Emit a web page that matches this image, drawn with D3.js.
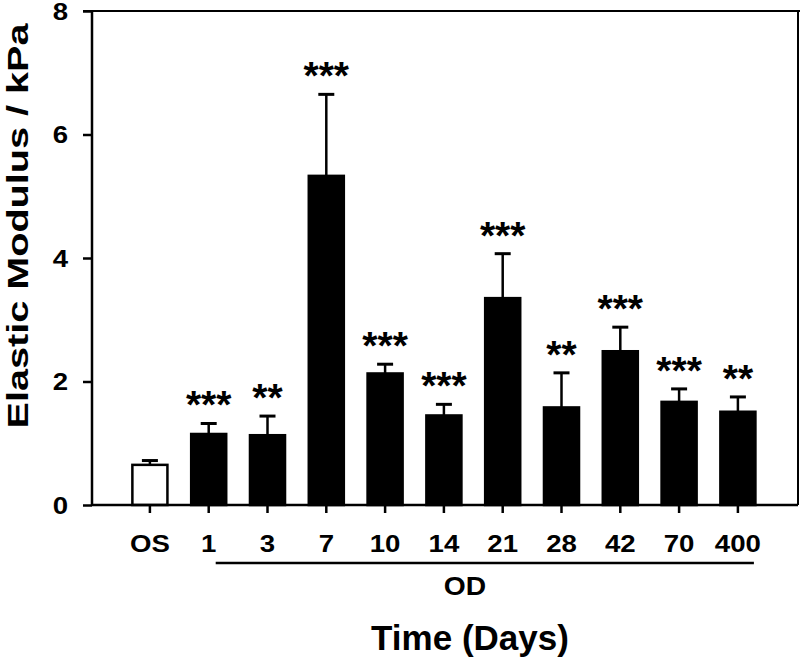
<!DOCTYPE html>
<html>
<head>
<meta charset="utf-8">
<script src="https://cdn.jsdelivr.net/npm/d3@7"></script>
<style>
  html, body { margin: 0; padding: 0; background: #fff; }
  svg { display: block; }
  text { font-family: "Liberation Sans", Arial, sans-serif; font-weight: bold; fill: #000; }
</style>
</head>
<body>
<svg id="chart" width="800" height="666"></svg>
<script>
// ---- data ----
const categories = ["OS", "1", "3", "7", "10", "14", "21", "28", "42", "70", "400"];
const groups = ["control", "OD", "OD", "OD", "OD", "OD", "OD", "OD", "OD", "OD", "OD"];
const means = [0.65, 1.15, 1.13, 5.33, 2.13, 1.45, 3.35, 1.58, 2.49, 1.67, 1.51];
const errors = [0.07, 0.17, 0.31, 1.32, 0.15, 0.18, 0.72, 0.56, 0.39, 0.21, 0.24];
const significance = ["", "***", "**", "***", "***", "***", "***", "**", "***", "***", "**"];
const yTicks = [0, 2, 4, 6, 8];
const yTitle = "Elastic Modulus / kPa";
const xTitle = "Time (Days)";
const groupLabel = "OD";

// ---- layout ----
const svg = d3.select("#chart");
const mLeft = 92, mRight = 798, mTop = 11, mBottom = 505;

const x = d3.scaleBand()
  .domain(categories)
  .range([120.5, 767.3])
  .paddingInner(0.37)
  .paddingOuter(0.185);

const y = d3.scaleLinear().domain([0, 8]).range([mBottom, mTop]);

// frame (top & right)
svg.append("line").attr("x1", mLeft - 9).attr("x2", 800).attr("y1", mTop).attr("y2", mTop)
  .attr("stroke", "#000").attr("stroke-width", 2);
svg.append("line").attr("x1", mRight).attr("x2", mRight).attr("y1", mTop).attr("y2", mBottom)
  .attr("stroke", "#000").attr("stroke-width", 2);

// bars
svg.append("g").selectAll("rect")
  .data(categories)
  .join("rect")
  .attr("x", d => x(d) + 1)
  .attr("width", x.bandwidth() - 2)
  .attr("y", (d, i) => y(means[i]))
  .attr("height", (d, i) => y(0) - y(means[i]))
  .attr("fill", (d, i) => groups[i] === "control" ? "#fff" : "#000")
  .attr("stroke", "#000")
  .attr("stroke-width", 2.5);

// error bars (upper only)
const eb = svg.append("g");
categories.forEach((c, i) => {
  const cx = x(c) + x.bandwidth() / 2;
  eb.append("line").attr("x1", cx).attr("x2", cx)
    .attr("y1", y(means[i])).attr("y2", y(means[i] + errors[i]))
    .attr("stroke", "#000").attr("stroke-width", 2.5);
  eb.append("line").attr("x1", cx - 8).attr("x2", cx + 8)
    .attr("y1", y(means[i] + errors[i])).attr("y2", y(means[i] + errors[i]))
    .attr("stroke", "#000").attr("stroke-width", 3);
});

// significance stars
svg.append("g").selectAll("text")
  .data(categories)
  .join("text")
  .attr("x", d => x(d) + x.bandwidth() / 2)
  .attr("y", (d, i) => y(means[i] + errors[i]) - 5)
  .attr("text-anchor", "middle")
  .style("font-size", "39px")
  .text((d, i) => significance[i]);

// y axis
const yAxis = svg.append("g")
  .attr("transform", `translate(${mLeft},0)`)
  .call(d3.axisLeft(y).tickValues(yTicks).tickSize(9).tickPadding(0).tickFormat(d3.format("d")));
yAxis.select(".domain").attr("stroke-width", 2.5).attr("d", `M0,${mTop}V${mBottom}`);
yAxis.selectAll(".tick line").attr("stroke-width", 2.5);
yAxis.selectAll(".tick text")
  .attr("x", -24 / 1.15)
  .attr("dy", "0.35em")
  .attr("transform", "scale(1.15,1)")
  .style("font-size", "24px");

// x axis
const xAxis = svg.append("g")
  .attr("transform", `translate(0,${mBottom})`)
  .call(d3.axisBottom(x).tickSize(8).tickPadding(0));
xAxis.select(".domain").attr("stroke-width", 2.5).attr("d", `M${mLeft},0H${mRight}`);
xAxis.selectAll(".tick line").attr("stroke-width", 2.5);
xAxis.selectAll(".tick text")
  .attr("y", 47).attr("dy", 0)
  .attr("transform", "scale(1.15,1)")
  .style("font-size", "24px");

// OD group line
const odCats = categories.filter((c, i) => groups[i] === "OD");
const odX1 = x(odCats[0]) + x.bandwidth() / 2 + 7;
const odX2 = x(odCats[odCats.length - 1]) + x.bandwidth() / 2 + 16;
svg.append("line").attr("x1", odX1).attr("x2", odX2).attr("y1", 563).attr("y2", 563)
  .attr("stroke", "#000").attr("stroke-width", 2.5);
svg.append("text")
  .attr("transform", `translate(465,595) scale(1.13,1)`)
  .attr("text-anchor", "middle")
  .style("font-size", "25px")
  .text(groupLabel);

// x title
svg.append("text")
  .attr("x", 470).attr("y", 650)
  .attr("text-anchor", "middle")
  .style("font-size", "35px")
  .text(xTitle);

// y title
svg.append("text")
  .attr("transform", "translate(28,226) rotate(-90)")
  .attr("text-anchor", "middle")
  .attr("textLength", 405)
  .attr("lengthAdjust", "spacingAndGlyphs")
  .style("font-size", "29px")
  .text(yTitle);
</script>
</body>
</html>
